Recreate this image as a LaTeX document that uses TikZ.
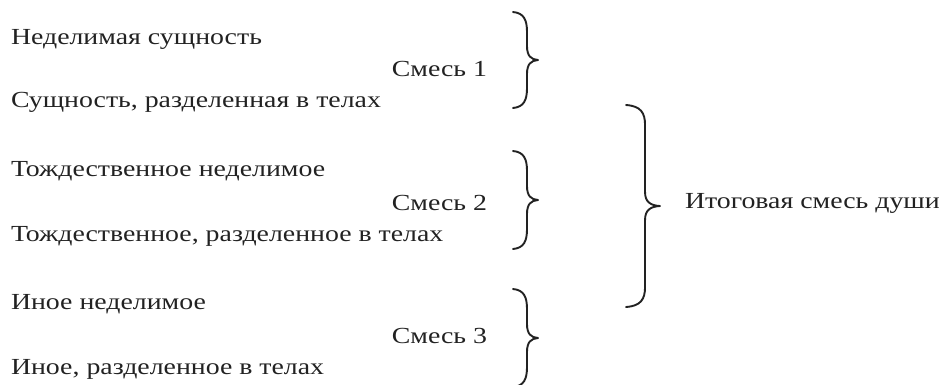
\documentclass[tikz,border=0pt]{standalone}
\usepackage{fontspec}
\setmainfont{Liberation Serif}[FakeStretch=1.21]
\definecolor{ink}{HTML}{222222}
\newcommand\mybrace[5]{% #1 name, #2 x left, #3 y top, #4 y bottom, #5 width scale
  \coordinate (#1t) at (#2,#3);
  \coordinate (#1b) at (#2,#4);
  \coordinate (#1m) at ({#2+25*#5},{(#3+#4)/2});
  \draw[bracestyle]
    (#1t) .. controls ({#2+11*#5},{#3+1}) and ({#2+14*#5},{#3+8}) .. ({#2+14*#5},{#3+20})
    -- ({#2+14*#5},{(#3+#4)/2-14})
    .. controls ({#2+14*#5},{(#3+#4)/2-4}) and ({#2+18*#5},{(#3+#4)/2-0.5}) .. (#1m)
    .. controls ({#2+18*#5},{(#3+#4)/2+0.5}) and ({#2+14*#5},{(#3+#4)/2+4}) .. ({#2+14*#5},{(#3+#4)/2+14})
    -- ({#2+14*#5},{#4-20})
    .. controls ({#2+14*#5},{#4-8}) and ({#2+11*#5},{#4-1}) .. (#1b);
}
\begin{document}
\begin{tikzpicture}[x=1pt,y=-1pt,
  every node/.style={inner sep=0pt, outer sep=0pt, text=ink, font=\fontsize{23}{27}\selectfont},
  item/.style={anchor=base west},
  mix/.style={anchor=base east},
  bracestyle/.style={draw=ink, line width=1.9pt, line cap=round, line join=round}]
\useasboundingbox (0,0) rectangle (945,384);
\node[item] (a1) at (11,44) {Неделимая сущность};
\node[item] (a2) at (11,107) {Сущность, разделенная в телах};
\node[item] (b1) at (11,176) {Тождественное неделимое};
\node[item] (b2) at (11,241) {Тождественное, разделенное в телах};
\node[item] (c1) at (11,309) {Иное неделимое};
\node[item] (c2) at (11,374) {Иное, разделенное в телах};
\node[mix] (m1) at (487,76) {Смесь 1};
\node[mix] (m2) at (487,210) {Смесь 2};
\node[mix] (m3) at (487,343) {Смесь 3};
\mybrace{br1}{513}{12}{108}{1}
\mybrace{br2}{513}{151}{249}{1}
\mybrace{br3}{513}{289}{387}{1}
\mybrace{brf}{626}{105}{307}{1.36}
\node[anchor=base west] (fin) at (685,208) {Итоговая смесь души};
\end{tikzpicture}
\end{document}
